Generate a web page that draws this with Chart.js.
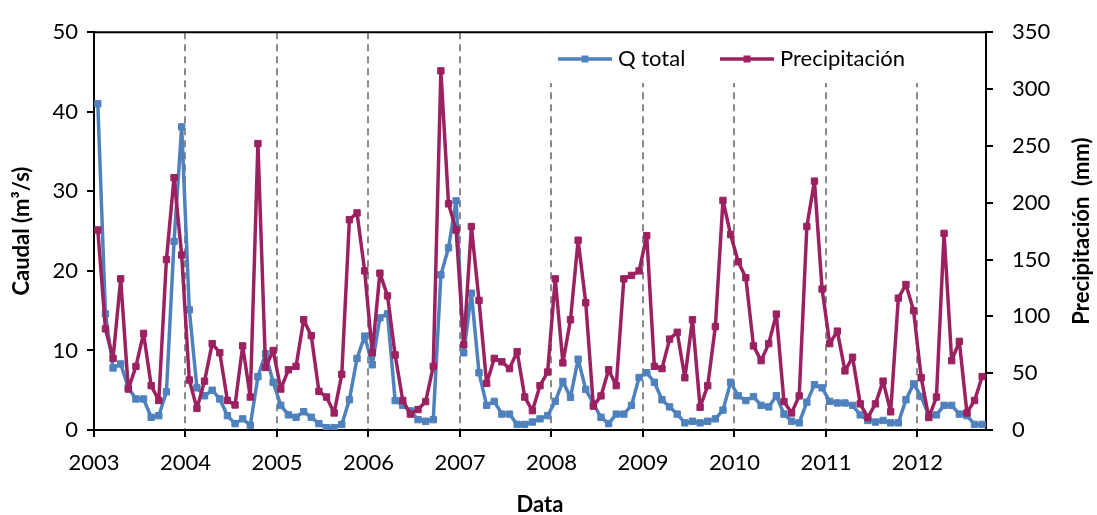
<!DOCTYPE html>
<html>
<head>
<meta charset="utf-8">
<script src="https://cdn.jsdelivr.net/npm/chart.js@4.4.1/dist/chart.umd.min.js"></script>
<style>
  html, body { margin: 0; padding: 0; background: #fff; }
</style>
</head>
<body>
<canvas id="chart" width="1097" height="515"></canvas>
<script>
// monthly series, Jan 2003 .. Sep 2012
const startYear = 2003;
const yearTicks = [2003, 2004, 2005, 2006, 2007, 2008, 2009, 2010, 2011, 2012];

const qTotal = [
  41.0, 14.6, 7.8, 8.3, 5.3, 3.9, 3.9, 1.6, 1.8, 4.8, 23.7, 38.1,
  15.1, 5.3, 4.3, 5.0, 3.9, 1.8, 0.8, 1.4, 0.6, 6.7, 9.6, 6.0,
  3.1, 1.9, 1.6, 2.3, 1.6, 0.8, 0.3, 0.3, 0.7, 3.8, 9.0, 11.8,
  8.2, 14.1, 14.6, 3.7, 3.1, 2.4, 1.3, 1.1, 1.3, 19.5, 22.9, 28.8,
  9.7, 17.2, 7.2, 3.1, 3.6, 2.0, 2.0, 0.7, 0.7, 1.0, 1.4, 1.8,
  3.6, 6.1, 4.1, 8.9, 5.1, 3.3, 1.6, 0.8, 2.0, 2.0, 3.1, 6.6,
  7.2, 6.0, 3.8, 2.9, 2.0, 0.9, 1.1, 0.9, 1.1, 1.4, 2.5, 6.0,
  4.3, 3.7, 4.2, 3.1, 2.9, 4.3, 2.0, 1.1, 0.9, 3.5, 5.7, 5.3,
  3.6, 3.4, 3.4, 3.1, 1.9, 1.2, 1.0, 1.2, 0.9, 0.9, 3.8, 5.8,
  4.2, 1.8, 1.9, 3.1, 3.1, 2.0, 1.8, 0.7, 0.7
];

const precipitacion = [
  176, 89, 63, 133, 36, 56, 85, 39, 26, 150, 222, 154,
  44, 19, 43, 76, 68, 26, 22, 74, 29, 252, 55, 70,
  36, 53, 56, 97, 83, 34, 29, 15, 49, 185, 191, 140,
  68, 138, 118, 66, 26, 14, 18, 25, 56, 316, 199, 176,
  75, 179, 114, 41, 63, 60, 54, 69, 29, 17, 39, 51,
  133, 59, 97, 167, 112, 21, 30, 53, 39, 133, 136, 140,
  171, 56, 54, 80, 86, 46, 97, 20, 39, 91, 202, 172,
  148, 134, 74, 61, 76, 102, 25, 15, 30, 179, 219, 124,
  76, 87, 52, 64, 23, 11, 23, 43, 16, 116, 128, 105,
  46, 11, 29, 173, 61, 78, 15, 26, 47
];

const seriesNames = ["Q total", "Precipitación"];
const seriesColors = ["#4F81BD", "#9B2160"];

// point x = middle of each month, in fractional years
const monthPos = qTotal.map((v, i) => startYear + (i + 0.5) / 12);

const ctx = document.getElementById("chart").getContext("2d");
Chart.defaults.font.family = "Lato, 'Open Sans', sans-serif";
Chart.defaults.color = "#000";

const legendX = [558, 720];
const legendY = 59;

const frameAndLegend = {
  id: "frameAndLegend",
  beforeDatasetsDraw(chart) {
    const a = chart.chartArea;
    const c = chart.ctx;
    // white box behind the legend hides the dashed grid lines
    c.save();
    c.fillStyle = "#fff";
    c.fillRect(520, a.top + 1, a.right - 521, 83 - a.top - 1);
    c.restore();
  },
  afterDraw(chart) {
    const a = chart.chartArea;
    const c = chart.ctx;
    c.save();
    // top frame line
    c.strokeStyle = "#000";
    c.lineWidth = 2;
    c.beginPath();
    c.moveTo(a.left, a.top);
    c.lineTo(a.right, a.top);
    c.stroke();

    // legend
    chart.data.datasets.forEach((ds, i) => {
      const x = legendX[i];
      c.strokeStyle = ds.borderColor;
      c.lineWidth = 3.5;
      c.beginPath();
      c.moveTo(x, legendY);
      c.lineTo(x + 54, legendY);
      c.stroke();
      c.fillStyle = ds.borderColor;
      c.fillRect(x + 27 - 3.5, legendY - 3.5, 7, 7);
      c.fillStyle = "#000";
      c.font = "22px Lato, 'Open Sans', sans-serif";
      c.textAlign = "left";
      c.textBaseline = "middle";
      c.fillText(ds.label, x + 60, legendY);
    });

    // right axis title, reading bottom to top
    c.translate(chart.width - 15, (a.top + a.bottom) / 2);
    c.rotate(-Math.PI / 2);
    c.font = "bold 22px Lato, 'Open Sans', sans-serif";
    c.textAlign = "center";
    c.textBaseline = "middle";
    c.fillStyle = "#000";
    c.fillText("Precipitación  (mm)", 0, 0);
    c.restore();
  }
};

new Chart(ctx, {
  type: "line",
  data: {
    datasets: [
      {
        label: seriesNames[0],
        data: qTotal.map((v, i) => ({ x: monthPos[i], y: v })),
        yAxisID: "y",
        borderColor: seriesColors[0],
        backgroundColor: seriesColors[0],
        borderWidth: 3.5,
        borderJoinStyle: "round",
        borderCapStyle: "round",
        pointStyle: "rect",
        pointRadius: 4.5,
        pointBorderWidth: 1,
        tension: 0,
        order: 1
      },
      {
        label: seriesNames[1],
        data: precipitacion.map((v, i) => ({ x: monthPos[i], y: v })),
        yAxisID: "y1",
        borderColor: seriesColors[1],
        backgroundColor: seriesColors[1],
        borderWidth: 3.5,
        borderJoinStyle: "round",
        borderCapStyle: "round",
        pointStyle: "rect",
        pointRadius: 4.5,
        pointBorderWidth: 1,
        tension: 0,
        order: 0
      }
    ]
  },
  options: {
    responsive: false,
    animation: false,
    devicePixelRatio: 1,
    layout: { padding: { top: 22, left: 0, right: 0, bottom: 0 } },
    plugins: {
      legend: { display: false },
      tooltip: { enabled: false }
    },
    scales: {
      x: {
        type: "linear",
        position: "bottom",
        min: yearTicks[0],
        max: 2012.75,
        afterBuildTicks: (scale) => {
          scale.ticks = yearTicks.map(v => ({ value: v }));
        },
        afterFit: (scale) => { scale.height = 85; },
        ticks: {
          stepSize: 1,
          font: { size: 22 },
          padding: 13,
          maxRotation: 0,
          callback: (v) => String(v)
        },
        grid: {
          color: (c) => (c.tick && c.tick.value === yearTicks[0]) ? "rgba(0,0,0,0)" : "#8a8a8a",
          lineWidth: 2,
          tickColor: "#000",
          tickWidth: 2,
          tickLength: 7,
          tickBorderDash: []
        },
        border: { color: "#000", width: 2, dash: [7, 5] },
        title: {
          display: true,
          text: "Data",
          font: { size: 22, weight: "bold", lineHeight: 1 },
          padding: { top: 0, bottom: -1 }
        }
      },
      y: {
        position: "left",
        min: 0,
        max: 50,
        afterFit: (scale) => { scale.width = 94; },
        ticks: { stepSize: 10, font: { size: 22 }, padding: 9 },
        grid: { drawOnChartArea: false, color: "#000", lineWidth: 2, tickLength: 7 },
        border: { color: "#000", width: 2 },
        title: {
          display: true,
          text: "Caudal (m³/s)",
          font: { size: 22, weight: "bold", lineHeight: 1 },
          padding: { top: 11, bottom: 0 }
        }
      },
      y1: {
        position: "right",
        min: 0,
        max: 350,
        afterFit: (scale) => { scale.width = 111; },
        ticks: { stepSize: 50, font: { size: 22 }, padding: 19 },
        grid: { drawOnChartArea: false, color: "#000", lineWidth: 2, tickLength: 7 },
        border: { color: "#000", width: 2 }
      }
    }
  },
  plugins: [frameAndLegend]
});
</script>
</body>
</html>
